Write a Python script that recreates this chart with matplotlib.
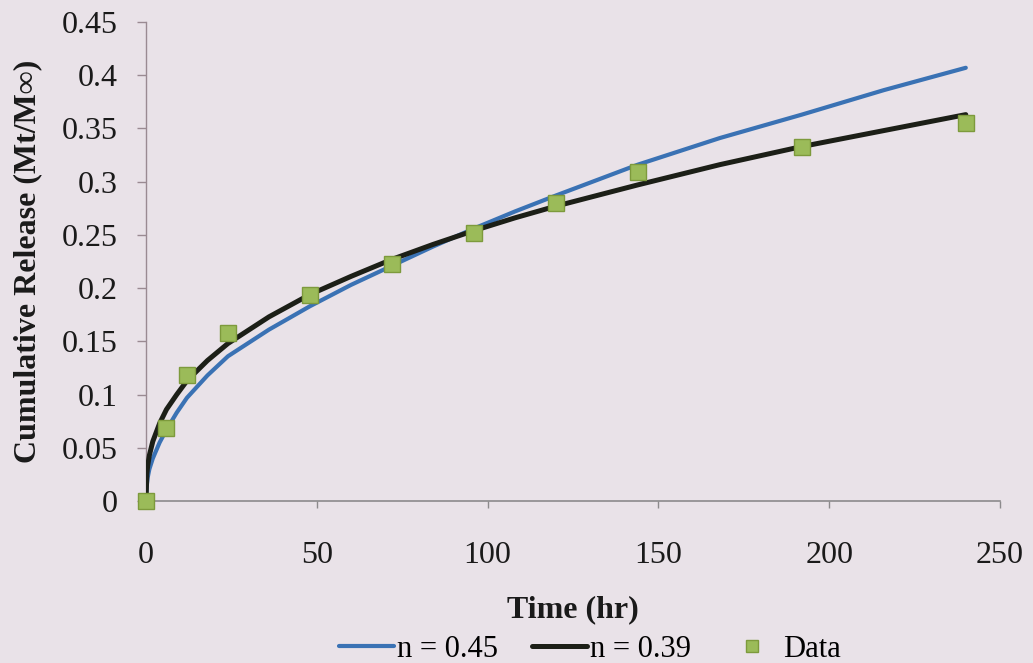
import matplotlib
matplotlib.use("Agg")
import matplotlib.pyplot as plt

# data
time_data = [0, 6, 12, 24, 48, 72, 96, 120, 144, 192, 240]
release_data = [0, 0.069, 0.118, 0.158, 0.194, 0.223, 0.252, 0.280, 0.309, 0.333, 0.355]

time_curve = [0, 0.25, 0.5, 1, 2, 4, 6, 9, 12, 18, 24, 36, 48, 60, 72, 84,
              96, 108, 120, 144, 168, 192, 216, 240]
model_045 = [0, 0.015, 0.022, 0.030, 0.040, 0.055, 0.067, 0.083, 0.097, 0.118,
             0.136, 0.161, 0.183, 0.203, 0.221, 0.239, 0.256, 0.272, 0.287,
             0.316, 0.341, 0.363, 0.386, 0.407]
model_039 = [0, 0.025, 0.033, 0.043, 0.056, 0.073, 0.086, 0.100, 0.113, 0.132,
             0.148, 0.173, 0.194, 0.211, 0.227, 0.241, 0.254, 0.266, 0.277,
             0.297, 0.316, 0.333, 0.348, 0.363]

x_ticks = [0, 50, 100, 150, 200, 250]
y_ticks = [0, 0.05, 0.1, 0.15, 0.2, 0.25, 0.3, 0.35, 0.4, 0.45]
y_tick_labels = ["0", "0.05", "0.1", "0.15", "0.2", "0.25", "0.3", "0.35", "0.4", "0.45"]

bg = "#e9e2e8"
plt.rcParams["font.family"] = ["Liberation Serif", "DejaVu Serif"]

fig = plt.figure(figsize=(10.33, 6.63), dpi=100)
fig.patch.set_facecolor(bg)
ax = fig.add_axes([0.1413, 0.2443, 0.8267, 0.7225])
ax.set_facecolor(bg)

ax.plot(time_curve, model_045, color="#3a72b4", linewidth=3.0,
        solid_capstyle="round", label="n = 0.45", zorder=3)
ax.plot(time_curve, model_039, color="#1c1f17", linewidth=3.6,
        solid_capstyle="round", label="n = 0.39", zorder=4)
ax.plot(time_data, release_data, linestyle="none", marker="s", markersize=11,
        markerfacecolor="#9bbb59", markeredgecolor="#7d9a3c", markeredgewidth=1.0,
        label="Data", zorder=5, clip_on=False)

ax.set_xlim(0, 250)
ax.set_ylim(0, 0.45)
ax.set_xticks(x_ticks)
ax.set_yticks(y_ticks)
ax.set_yticklabels(y_tick_labels)

for side in ["top", "right"]:
    ax.spines[side].set_visible(False)
ax.spines["left"].set_color("#9a8a92")
ax.spines["bottom"].set_color("#8c8a8c")
ax.spines["left"].set_linewidth(1.0)
ax.spines["bottom"].set_linewidth(1.2)

ax.tick_params(axis="y", direction="out", length=6.5, width=1.0, color="#9a8a92",
               labelsize=23, pad=14, labelcolor="#1a1a1a")
ax.tick_params(axis="x", direction="out", length=5, width=1.0, color="#8c8a8c",
               labelsize=23, pad=24, labelcolor="#1a1a1a")

ax.set_xlabel("Time (hr)", fontsize=23, fontweight="bold", labelpad=18, color="#1a1a1a")
ax.set_ylabel("Cumulative Release (Mt/M\u221e)", fontsize=23, fontweight="bold",
              labelpad=14, color="#1a1a1a")

fig.legend(loc="center", bbox_to_anchor=(0.571, 0.021), ncol=3, frameon=False,
           fontsize=22, handlelength=1.8, handletextpad=0.1, columnspacing=1.1,
           markerscale=0.85, borderaxespad=0)

fig.savefig("out.png", dpi=100, facecolor=bg)
